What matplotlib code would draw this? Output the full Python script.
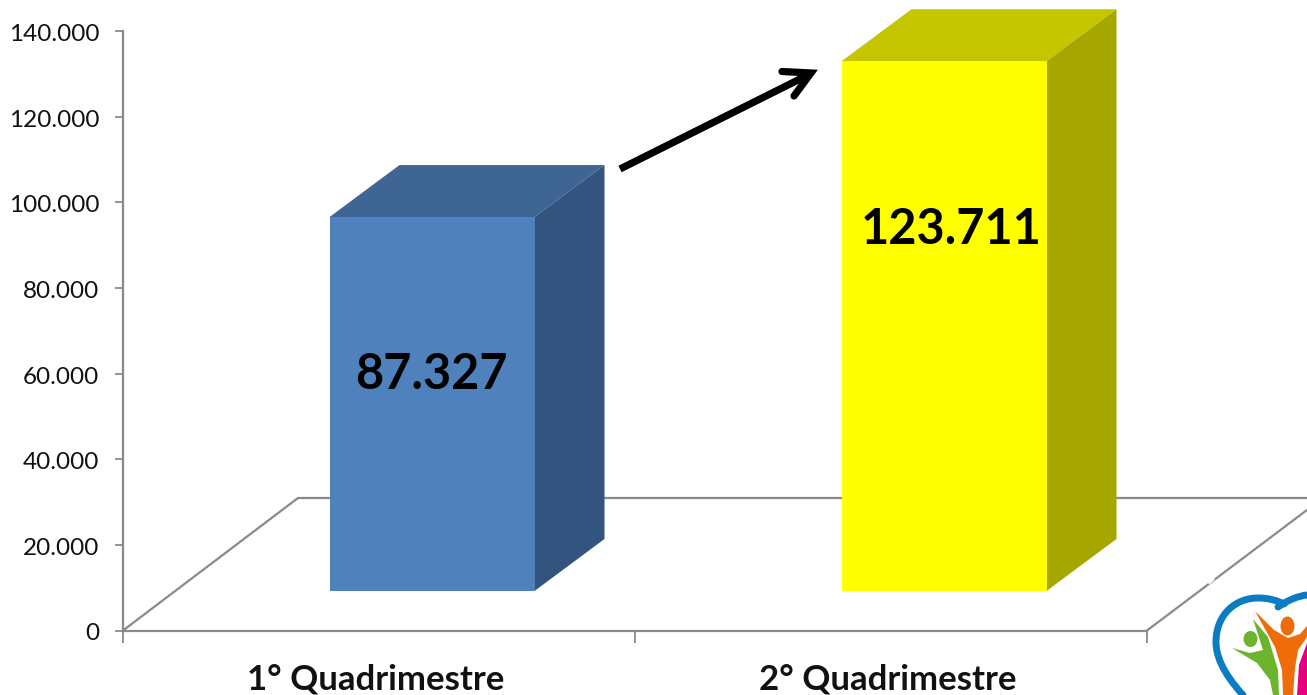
import matplotlib
matplotlib.use("Agg")
import matplotlib.pyplot as plt
from matplotlib.patches import Polygon, Ellipse, PathPatch
from matplotlib.path import Path
from matplotlib.transforms import ScaledTranslation

categories = ["1° Quadrimestre", "2° Quadrimestre"]
values = [87327, 123711]
value_labels = ["87.327", "123.711"]
y_ticks = [0, 20000, 40000, 60000, 80000, 100000, 120000, 140000]
y_tick_labels = ["0", "20.000", "40.000", "60.000", "80.000", "100.000", "120.000", "140.000"]
front_colors = ["#4F81BD", "#FFFF00"]
top_colors = ["#3E6594", "#C5C500"]
side_colors = ["#32547E", "#A6A600"]

W, H = 1307, 695
GREY = "#8A8A8A"
plt.rcParams["font.family"] = ["Lato", "DejaVu Sans"]
fig = plt.figure(figsize=(W / 100, H / 100), dpi=100, facecolor="white")

# main axes: spans pixel x 123..1147, y 31..630.5
ax = fig.add_axes([123 / W, 1 - 630.5 / H, 1024 / W, 599.5 / H])
ax.set_xlim(-0.5, 1.5)
ax.set_ylim(0, 140000)
ax.patch.set_alpha(0)
px_x = 2 / 1024
px_y = 140000 / 599.5

# floor
ax.plot([-0.5, -0.5 + 175 * px_x, 1.5 + 160 * px_x], [0, 132.5 * px_y, 132.5 * px_y],
        color=GREY, lw=1.6, clip_on=False, zorder=1)
ax.plot([1.5, 1.5 + 160 * px_x], [0, 120.5 * px_y], color=GREY, lw=1.6, clip_on=False, zorder=1)

# bars
offset = 39.5 * px_y
dx, dy = 70 * px_x, 52 * px_y
centers = [i + 53 * px_x for i in range(len(values))]
bar_w = 205 * px_x
ax.bar(centers, values, width=bar_w, bottom=offset, color=front_colors, linewidth=0, zorder=4)
for c, v, tc, sc in zip(centers, values, top_colors, side_colors):
    l, r = c - bar_w / 2, c + bar_w / 2
    t = offset + v
    ax.add_patch(Polygon([(l, t), (r, t), (r + dx, t + dy), (l + dx, t + dy)], closed=True,
                         fc=tc, ec="none", clip_on=False, zorder=3))
    ax.add_patch(Polygon([(r, offset), (r + dx, offset + dy), (r + dx, t + dy), (r, t)], closed=True,
                         fc=sc, ec="none", clip_on=False, zorder=3))

# value labels
for c, v, s, yfrac, xshift in zip(centers, values, value_labels, [0.58, 0.683], [-0.5, 7.5]):
    ax.text(c + xshift * px_x, offset + v * yfrac, s, ha="center", va="center",
            fontsize=35, fontweight="bold", color="black", zorder=6)

# axes styling
for s in ("top", "right"):
    ax.spines[s].set_visible(False)
for s in ("left", "bottom"):
    ax.spines[s].set_color(GREY)
    ax.spines[s].set_linewidth(1.6)
ax.set_yticks(y_ticks, y_tick_labels, fontsize=17.5, color="#111111")
ax.tick_params(axis="y", length=6, width=1.3, color=GREY, pad=11)
shift = ScaledTranslation(0, -1.5 / 100, fig.dpi_scale_trans)
for lab in ax.get_yticklabels():
    lab.set_transform(lab.get_transform() + shift)
ax.set_xticks([-0.5, 0.5, 1.5], minor=False)
ax.set_xticklabels([])
ax.tick_params(axis="x", length=8.5, width=1.3, color=GREY)
for i, cat in enumerate(categories):
    ax.text(i - 3.5 * px_x, -49 * px_y, cat, ha="center", va="center", fontsize=25,
            fontweight="bold", color="#111111", clip_on=False)

# overlay in pixel coordinates: arrow and logo
ov = fig.add_axes([0, 0, 1, 1], facecolor="none")
ov.set_xlim(0, W)
ov.set_ylim(H, 0)
ov.axis("off")
ov.plot([620, 808], [169, 75], color="black", lw=5.2, solid_capstyle="butt", zorder=7)
ov.plot([782, 811, 794], [71.5, 73, 96], color="black", lw=5.2, solid_capstyle="round",
        solid_joinstyle="miter", zorder=7)

ov.plot([1209.5, 1213], [582.5, 579.5], color="white", lw=2, zorder=2)

BLUE = "#0A7CC4"
ring = Path([(1243, 695), (1222, 672), (1216, 655), (1216, 642), (1216, 615), (1235, 598), (1258, 598),
             (1268, 598), (1276, 600), (1284, 604)],
            [Path.MOVETO] + [Path.CURVE4] * 9)
ov.add_patch(PathPatch(ring, fc="none", ec=BLUE, lw=5, capstyle="round"))
ring2 = Path([(1278, 607), (1288, 600), (1298, 596), (1307, 595)],
             [Path.MOVETO, Path.CURVE4, Path.CURVE4, Path.CURVE4])
ov.add_patch(PathPatch(ring2, fc="none", ec=BLUE, lw=5, capstyle="round"))

GREEN, ORANGE, PINK = "#6CB42C", "#EE6C0A", "#E6007E"
ov.add_patch(Ellipse((1250.5, 639), 14, 16, fc=GREEN, ec="none"))
ov.add_patch(Polygon([(1232, 648), (1250, 653), (1263, 650), (1253, 619), (1268, 637), (1278, 670),
                      (1279, 695), (1273, 695), (1270, 680), (1257, 663)], closed=True, fc=GREEN, ec="none"))
ov.add_patch(Ellipse((1287.5, 626), 14, 19, fc=ORANGE, ec="none"))
ov.add_patch(Polygon([(1255, 611), (1274, 630), (1288, 638), (1300, 634), (1307, 626), (1307, 637),
                      (1298, 650), (1295, 668), (1293, 695), (1283, 695), (1282, 670), (1275, 647)],
                     closed=True, fc=ORANGE, ec="none"))
ov.add_patch(Polygon([(1307, 643), (1299, 665), (1297, 695), (1307, 695)], closed=True, fc=PINK, ec="none"))

fig.savefig("out.png", dpi=100, facecolor="white")
